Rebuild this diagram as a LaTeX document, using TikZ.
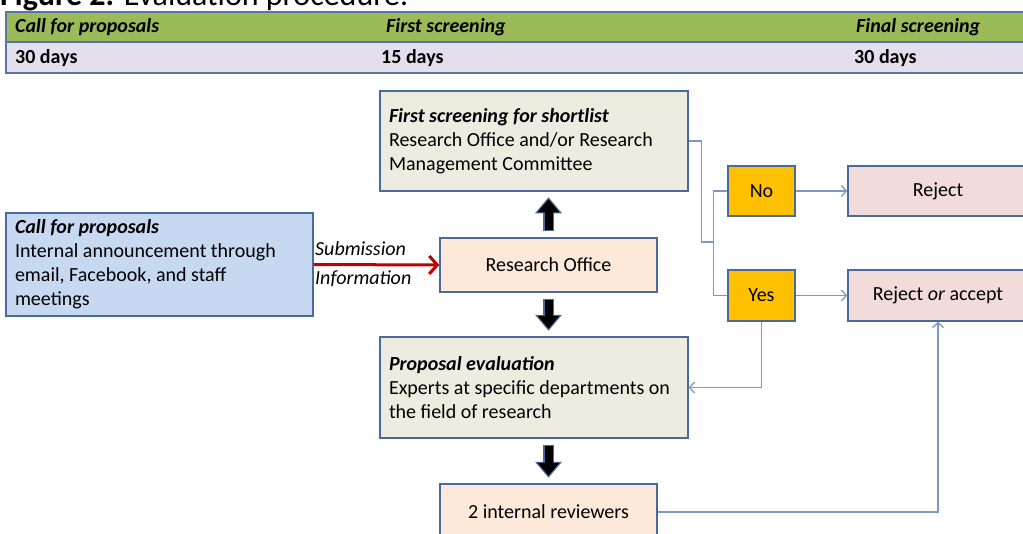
\documentclass[tikz,border=0pt]{standalone}
\usepackage{fontspec}
\setmainfont{Carlito}
\usetikzlibrary{arrows.meta}

\definecolor{headgreen}{HTML}{9BBB59}
\definecolor{dayslilac}{HTML}{E4DFEC}
\definecolor{tableedge}{HTML}{5975A6}
\definecolor{boxedge}{HTML}{4A6A9B}
\definecolor{callblue}{HTML}{C6D9F1}
\definecolor{officepeach}{HTML}{FDE9D9}
\definecolor{stepgray}{HTML}{EEECE1}
\definecolor{answeryellow}{HTML}{FFC000}
\definecolor{resultpink}{HTML}{F2DCDB}
\definecolor{linkblue}{HTML}{7D99BF}
\definecolor{submitred}{HTML}{C00000}

\tikzset{
  every node/.style={font=\fontsize{20}{24}\selectfont},
  box/.style={draw=boxedge, line width=1.5pt, inner sep=0pt},
  textbox/.style={box, align=flush left, inner xsep=9pt},
  callbox/.style={textbox, fill=callblue},
  stepbox/.style={textbox, fill=stepgray},
  officebox/.style={box, fill=officepeach},
  answerbox/.style={box, fill=answeryellow},
  resultbox/.style={box, fill=resultpink},
  link/.style={draw=linkblue, line width=1.3pt},
  linkarrow/.style={link, -{Straight Barb[length=5pt,width=11pt]}},
  submitarrow/.style={draw=submitred, line width=3pt, -{Straight Barb[length=8pt,width=18pt]}},
  blockarrow/.style={draw=black, line width=8pt, -{Triangle[length=13pt,width=21pt]}, shorten <=7pt, shorten >=7.5pt,
    preaction={draw=boxedge, line width=11pt, -{Triangle[length=16pt,width=26pt]}, shorten <=6pt, shorten >=5.5pt}},
  tabletext/.style={anchor=west, inner sep=0pt}
}

\begin{document}
\begin{tikzpicture}[x=1pt,y=-1pt]
  \clip (0,0) rectangle (1023,533);
  \fill[white] (0,0) rectangle (1023,533);

  \node[anchor=base west, inner sep=0pt, font=\fontsize{32}{36}\selectfont] (title) at (0,5) {\textbf{Figure 2.} Evaluation procedure.};

  \draw[tableedge, line width=1.5pt, fill=headgreen] (6,12) rectangle (1030,42);
  \draw[tableedge, line width=1.5pt, fill=dayslilac] (6,42) rectangle (1030,73);

  \foreach \hx/\dx/\head/\days [count=\i] in {15/15/Call for proposals/30 days, 386/381/First screening/15 days, 856/854/Final screening/30 days} {
    \node[tabletext] (head\i) at (\hx,27) {\textbf{\textit{\head}}};
    \node[tabletext] (days\i) at (\dx,58) {\textbf{\days}};
  }

  \node[callbox, minimum width=307pt, minimum height=103pt, text width=289pt] (call) at (159.5,264.5)
    {\textbf{\textit{Call for proposals}}\\Internal announcement through\\email, Facebook, and staff\\meetings};
  \node[officebox, minimum width=217pt, minimum height=54pt] (office) at (548.5,265) {Research Office};
  \node[stepbox, minimum width=308pt, minimum height=100pt, text width=290pt] (shortlist) at (534,141)
    {\textbf{\textit{First screening for shortlist}}\\Research Office and/or Research\\Management Committee};
  \node[stepbox, minimum width=308pt, minimum height=101pt, text width=290pt] (evaluation) at (534,387.5)
    {\textbf{\textit{Proposal evaluation}}\\Experts at specific departments on\\the field of research};
  \node[officebox, minimum width=217pt, minimum height=56pt] (reviewers) at (548.5,512) {2 internal reviewers};

  \node[answerbox, minimum width=67pt, minimum height=50pt] (no) at (761.5,191) {No};
  \node[answerbox, minimum width=67pt, minimum height=51pt] (yes) at (761.5,295.5) {Yes};
  \node[resultbox, minimum width=180pt, minimum height=50pt] (reject) at (938,191) {Reject};
  \node[resultbox, minimum width=180pt, minimum height=51pt] (decide) at (938,295.5) {Reject \textit{or} accept};

  \node[anchor=west, inner sep=0pt] (submission) at (315,249) {\textit{Submission}};
  \node[anchor=west, inner sep=0pt] (information) at (315,279) {\textit{Information}};

  \draw[submitarrow] (call.east) -- (office.west);

  \draw[blockarrow] (office.north) -- (office.north |- shortlist.south);
  \draw[blockarrow] (office.south) -- (office.south |- evaluation.north);
  \draw[blockarrow] (reviewers.north |- evaluation.south) -- (reviewers.north);

  \coordinate (fork) at (714,242);
  \draw[link] (shortlist.east) -- ++(13,0) |- (fork);
  \draw[link] (no.west) -- ++(-14,0) |- (yes.west);

  \draw[linkarrow] (no) -- (reject);
  \draw[linkarrow] (yes) -- (decide);
  \draw[linkarrow] (yes.south) |- (evaluation.east);
  \draw[linkarrow] (reviewers.east) -| (decide.south);
\end{tikzpicture}
\end{document}
